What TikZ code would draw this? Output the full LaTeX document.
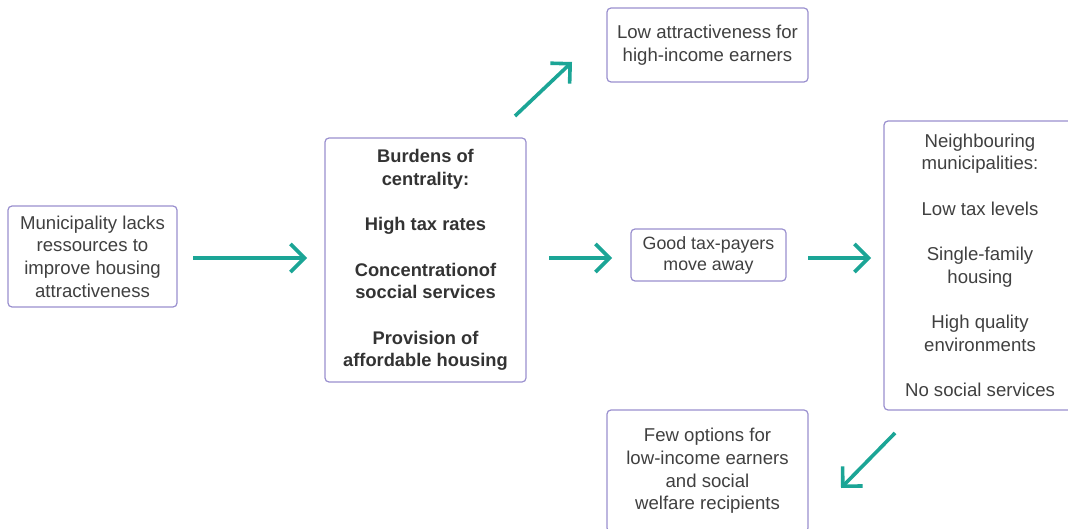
\documentclass[tikz,border=0pt]{standalone}
\usepackage{fontspec}
\setmainfont{Liberation Sans}
\usetikzlibrary{arrows.meta}
\definecolor{boxline}{HTML}{9A90CF}
\definecolor{txt}{HTML}{404040}
\definecolor{teal1}{HTML}{1BA596}
\tikzset{
  box/.style={draw=boxline, line width=1.2pt, rounded corners=4pt, inner sep=0pt,
    align=center, text=txt, font=\fontsize{18.6}{22.7}\selectfont},
  flow/.style={draw=teal1, line width=3.6pt,
    -{Straight Barb[length=14pt,width=28pt,line width=3.6pt]}}
}
\begin{document}
\begin{tikzpicture}[x=1pt,y=-1pt]
\clip (0,0) rectangle (1068,529);
\fill[white] (0,0) rectangle (1068,529);
\node[box, minimum width=169pt, minimum height=101pt] (b1) at (92.5,256.5)
  {Municipality lacks\\ressources to\\improve housing\\attractiveness};
\node[box, minimum width=201pt, minimum height=244pt, font=\fontsize{18.3}{22.7}\selectfont\bfseries, text=black!80] (b2) at (425.5,260)
  {Burdens of\\centrality:\\[22.7pt]High tax rates\\[22.7pt]Concentrationof\\soccial services\\[22.7pt]Provision of\\affordable housing};
\node[box, minimum width=201pt, minimum height=74pt] (b3) at (707.5,45)
  {Low attractiveness for\\high-income earners};
\node[box, minimum width=155pt, minimum height=52pt, font=\fontsize{17.8}{21}\selectfont] (b4) at (708.5,255)
  {Good tax-payers\\move away};
\node[box, minimum width=192pt, minimum height=289pt] (b5) at (980,265.5)
  {Neighbouring\\municipalities:\\[22.7pt]Low tax levels\\[22.7pt]Single-family\\housing\\[22.7pt]High quality\\environments\\[22.7pt]No social services};
\node[box, minimum width=201pt, minimum height=122pt] (b6) at (707.5,471)
  {Few options for\\low-income earners\\and social\\welfare recipients};
\coordinate (a1s) at (193,258); \coordinate (a1e) at (307,258);
\coordinate (a2s) at (549,258); \coordinate (a2e) at (612,258);
\coordinate (a3s) at (808,258); \coordinate (a3e) at (871,258);
\coordinate (a4s) at (515,116); \coordinate (a4e) at (572,62);
\coordinate (a5s) at (895,433); \coordinate (a5e) at (841,488);
\draw[flow] (a1s) -- (a1e);
\draw[flow] (a2s) -- (a2e);
\draw[flow] (a3s) -- (a3e);
\draw[flow] (a4s) -- (a4e);
\draw[flow] (a5s) -- (a5e);
\end{tikzpicture}
\end{document}
